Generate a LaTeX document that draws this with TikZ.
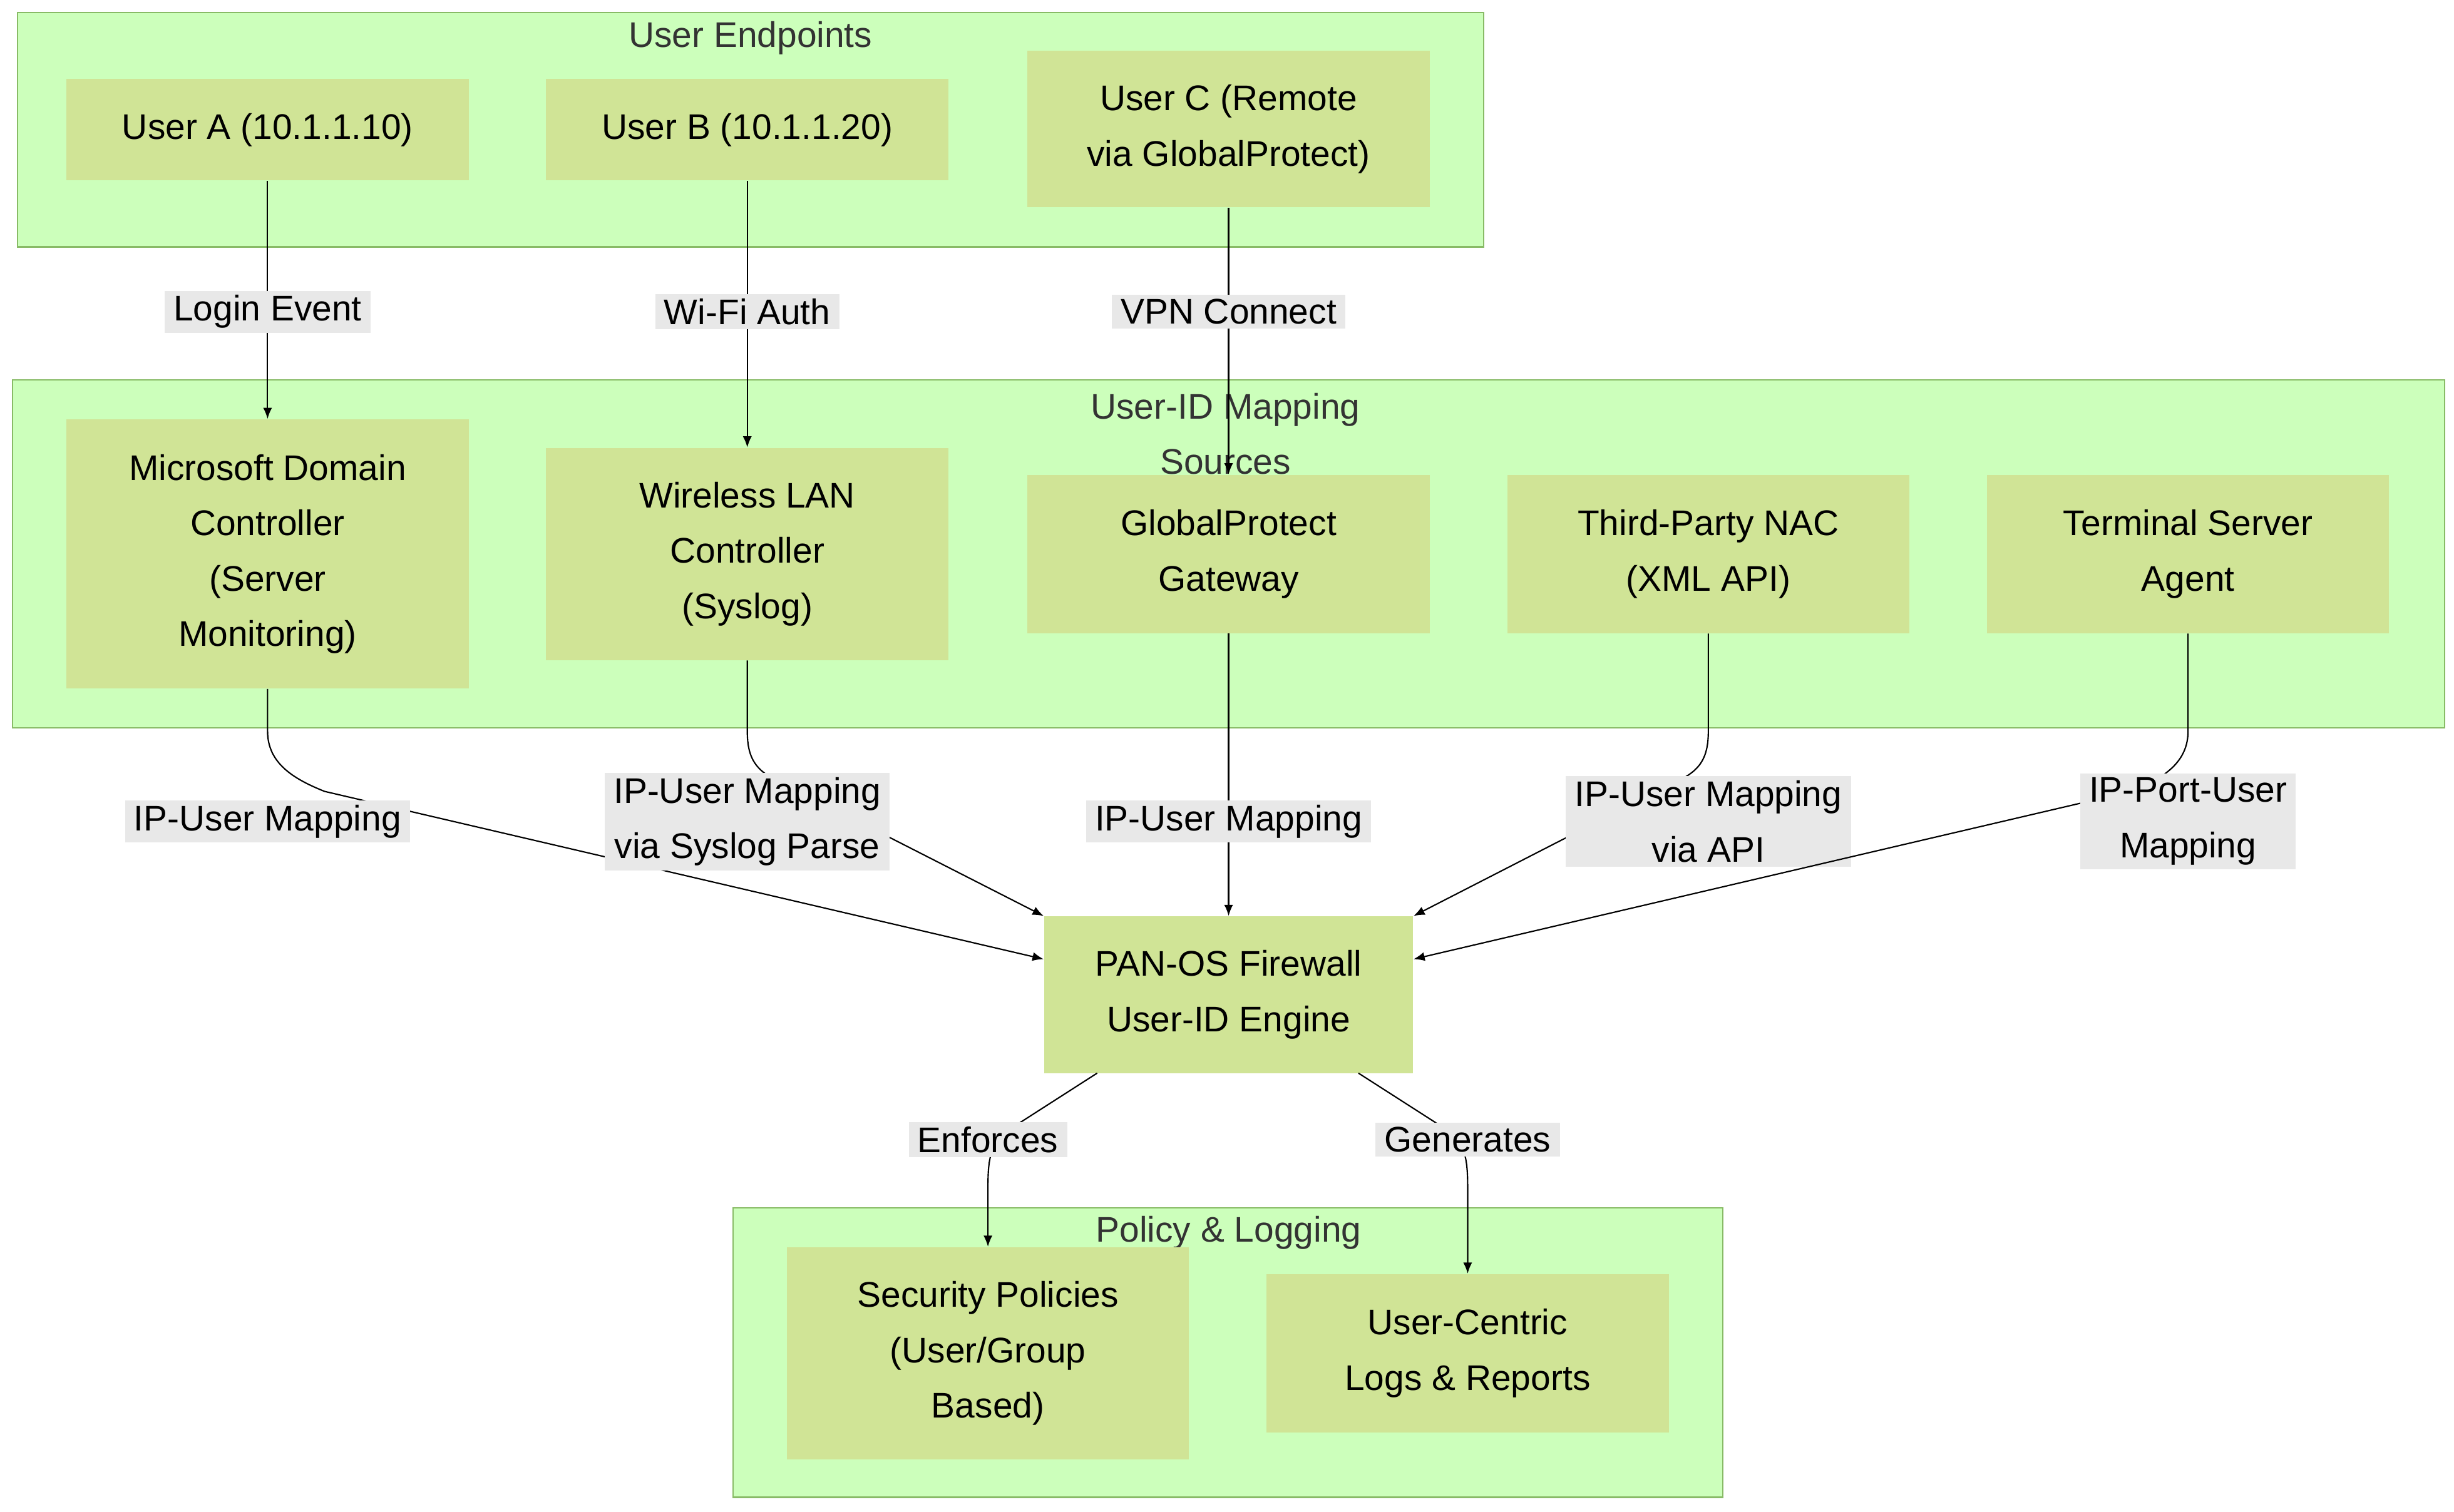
\documentclass[tikz,border=0pt]{standalone}
\usepackage{fontspec}
\setmainfont{Liberation Sans}
\usetikzlibrary{arrows.meta}
\definecolor{clfill}{HTML}{CCFFBB}
\definecolor{cldraw}{HTML}{88BB66}
\definecolor{boxfill}{HTML}{D0E496}
\definecolor{lblfill}{HTML}{E8E8E8}
\definecolor{titlecol}{HTML}{333333}
\tikzset{
  cluster/.style={fill=clfill,draw=cldraw,line width=0.6pt},
  title/.style={text=titlecol,font=\fontsize{16}{24.9}\selectfont,align=center},
  box/.style={fill=boxfill,draw=none,minimum width=6.35cm,align=center,
    font=\fontsize{16}{24.9}\selectfont},
  lbl/.style={fill=lblfill,inner xsep=4pt,inner ysep=2pt,align=center,
    font=\fontsize{16}{24.9}\selectfont},
  arr/.style={-{Latex[length=5pt,width=4pt]},line width=0.6pt}
}
\begin{document}
\begin{tikzpicture}[x=0.025cm,y=-0.025cm]
\useasboundingbox (0,0) rectangle (1550,955);
% clusters
\draw[cluster] (11,8) rectangle (937,156);
\draw[cluster] (8,240) rectangle (1544,460);
\draw[cluster] (463,763) rectangle (1088,946);
\node[title] (t1) at (474,24) {User Endpoints};
\node[title] (t2) at (774,274) {User-ID Mapping\\Sources};
\node[title] (t3) at (776,779) {Policy \& Logging};

% users
\node[box,minimum height=1.6cm] (ua) at (169,82) {User A (10.1.1.10)};
\node[box,minimum height=1.6cm] (ub) at (472,82) {User B (10.1.1.20)};
\node[box,minimum height=2.475cm] (uc) at (776,81.5) {User C (Remote\\via GlobalProtect)};

% sources
\node[box,minimum height=4.25cm] (mdc) at (169,350) {Microsoft Domain\\Controller\\(Server\\Monitoring)};
\node[box,minimum height=3.35cm] (wlc) at (472,350) {Wireless LAN\\Controller\\(Syslog)};
\node[box,minimum height=2.5cm] (gp) at (776,350) {GlobalProtect\\Gateway};
\node[box,minimum height=2.5cm] (nac) at (1079,350) {Third-Party NAC\\(XML API)};
\node[box,minimum height=2.5cm] (tsa) at (1382,350) {Terminal Server\\Agent};

% firewall
\node[box,minimum width=5.825cm,minimum height=2.475cm] (fw) at (776,628.5) {PAN-OS Firewall\\User-ID Engine};

% policy
\node[box,minimum height=3.35cm] (sp) at (624,855) {Security Policies\\(User/Group\\Based)};
\node[box,minimum height=2.5cm] (logs) at (927,855) {User-Centric\\Logs \& Reports};

% edges
\draw[arr] (ua) -- (mdc);
\node[lbl] (e1) at (169,197) {Login Event};
\draw[arr] (ub) -- (wlc);
\node[lbl] (e2) at (472,197) {Wi-Fi Auth};
\draw[arr] (uc) -- (gp);
\node[lbl] (e3) at (776,197) {VPN Connect};

\draw[arr] (mdc.south) -- (169,462) .. controls (169,482) and (185,492) .. (205,500) -- (fw.west |- 0,606);
\node[lbl] (e4) at (169,519) {IP-User Mapping};
\draw[arr] (wlc.south) -- (472,462) .. controls (472,480) and (478,488) .. (495,495) -- (fw.north west);
\node[lbl] (e5) at (472,519) {IP-User Mapping\\via Syslog Parse};
\draw[arr] (gp) -- (fw);
\node[lbl] (e6) at (776,519) {IP-User Mapping};
\draw[arr] (nac.south) -- (1079,462) .. controls (1079,480) and (1073,488) .. (1056,495) -- (fw.north east);
\node[lbl] (e7) at (1079,519) {IP-User Mapping\\via API};
\draw[arr] (tsa.south) -- (1382,462) .. controls (1382,482) and (1366,492) .. (1346,500) -- (fw.east |- 0,606);
\node[lbl] (e8) at (1382,519) {IP-Port-User\\Mapping};

\draw[arr] (693,678) -- (640,712) .. controls (626,721) and (624,730) .. (624,750) -- (sp.north);
\node[lbl] (e9) at (624,720) {Enforces};
\draw[arr] (858,678) -- (911,712) .. controls (925,721) and (927,730) .. (927,750) -- (logs.north);
\node[lbl] (e10) at (927,720) {Generates};
\end{tikzpicture}
\end{document}
